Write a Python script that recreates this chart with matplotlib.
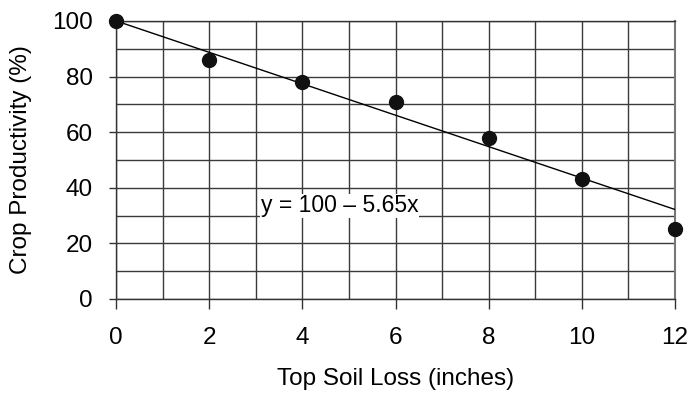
import matplotlib
matplotlib.use("Agg")
import matplotlib.pyplot as plt
import numpy as np

soil_loss = [0, 2, 4, 6, 8, 10, 12]
productivity = [100, 86, 78, 71, 58, 43, 25]
intercept = 100
slope = -5.65
x_ticks = [0, 2, 4, 6, 8, 10, 12]
y_ticks = [0, 20, 40, 60, 80, 100]
equation_label = "y = 100 \u2013 5.65x"

plt.rcParams['font.family'] = ['Liberation Sans', 'DejaVu Sans']

fig = plt.figure(figsize=(6.88, 3.96), dpi=100)
ax = fig.add_axes([0.169, 0.245, 0.812, 0.702])
ax.set_xlim(0, 12)
ax.set_ylim(0, 100)

# grid
ax.set_xticks(np.arange(0, 13, 1), minor=True)
ax.set_yticks(np.arange(0, 101, 10), minor=True)
ax.grid(True, which='both', color='#3a3a3a', linewidth=1.0)
ax.set_axisbelow(True)

ax.set_xticks(x_ticks)
ax.set_yticks(y_ticks)
ax.tick_params(axis='x', which='major', length=7, width=1, color='#333', labelsize=17.5, pad=13)
ax.tick_params(axis='y', which='major', length=5, width=1, color='#333', labelsize=17.5, pad=12)
ax.tick_params(which='minor', length=0)

for s in ['top', 'bottom', 'left']:
    ax.spines[s].set_color('#333')
    ax.spines[s].set_linewidth(1.0)
ax.spines['right'].set_color('#777')
ax.spines['right'].set_linewidth(1.5)

xl = np.array([0, 12])
ax.plot(xl, intercept + slope * xl, color='black', linewidth=1.0, zorder=3)
ax.plot(soil_loss, productivity, 'o', color='#111', markersize=10, zorder=4, clip_on=False)

ax.text(3.1, 33.5, equation_label, fontsize=16.5, ha='left', va='center',
        bbox=dict(facecolor='white', edgecolor='none', pad=0.5), zorder=3.5)

ax.set_xlabel("Top Soil Loss (inches)", fontsize=17.5, labelpad=14)
ax.set_ylabel("Crop Productivity (%)", fontsize=17.5, labelpad=14)

fig.savefig("out.png", dpi=100)
